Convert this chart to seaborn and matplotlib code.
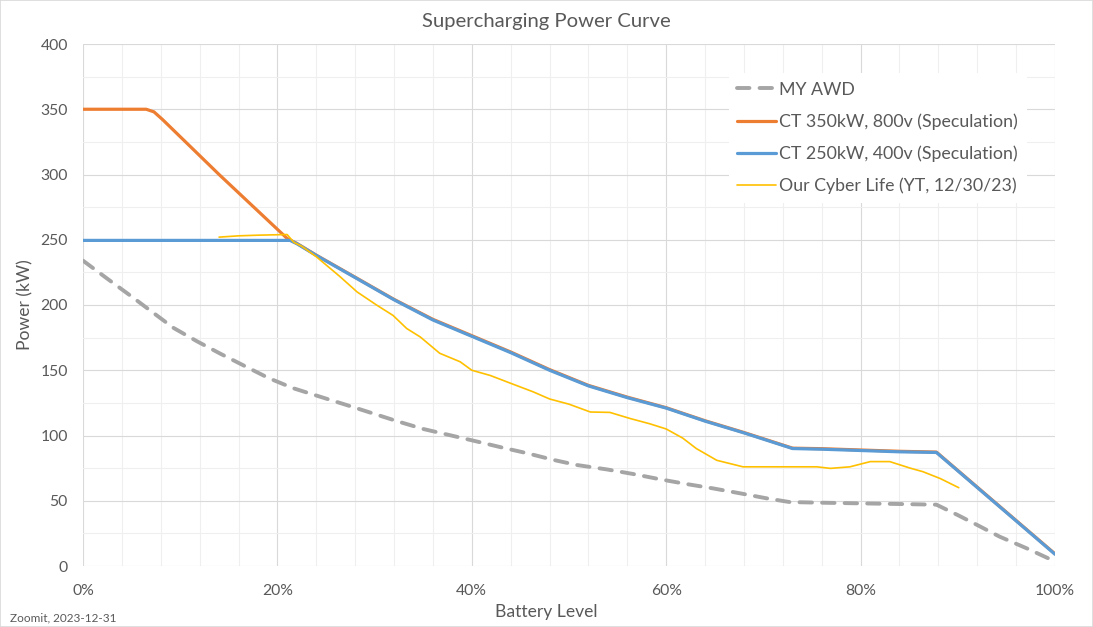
import numpy as np
import matplotlib
matplotlib.use("Agg")
import matplotlib.pyplot as plt
from matplotlib.ticker import PercentFormatter, MultipleLocator
from matplotlib.patches import Rectangle
import seaborn as sns

# battery level (%) / power (kW)
my_awd_x = [0, 2.6, 5, 7, 9.3, 11.7, 14.1, 16.7, 19.1, 21.6, 24.4, 27.1, 30, 32.3, 35,
            37.6, 40.3, 43.1, 45.7, 48.4, 50.8, 53.9, 56.6, 59.4, 62.1, 64.8, 67.6,
            70.3, 72.7, 76, 80, 84, 87.8, 90, 92, 94.3, 97.1, 100]
my_awd_y = [234, 219.6, 206.5, 195.3, 182.5, 172.3, 162.8, 153, 144, 136.3, 129.7, 123.4,
            116.5, 111, 105, 100.5, 95.8, 90.8, 86.4, 81.3, 77.4, 74, 70.5, 66.4, 62.8,
            59.5, 55.7, 51.9, 49, 48.5, 48, 47.5, 47, 39, 31.4, 22.5, 13.5, 3.5]

ct350_x = [0, 6.5, 7.3, 8.2, 14, 21, 22, 24, 28, 32, 36, 40, 44, 48, 52, 56, 60, 64, 68,
           73, 76, 80, 84, 87.8, 100]
ct350_y = [350, 350, 348, 342, 300, 251, 247.2, 238.2, 221.3, 204.3, 189, 176.5, 164,
           150.5, 138.4, 129.4, 121.3, 111.3, 102.3, 90.3, 89.9, 88.9, 87.9, 87.3, 9.3]

ct250_x = [0, 21.3, 22, 24, 28, 32, 36, 40, 44, 48, 52, 56, 60, 64, 68, 73, 76, 80, 84,
           87.8, 100]
ct250_y = [249.5, 249.5, 247, 238, 221, 204, 188.5, 176, 163.5, 150, 138, 129, 121, 111,
           102, 90, 89.5, 88.5, 87.5, 87, 9]

ocl_x = [14, 16, 18, 21, 21.7, 22.5, 24, 26.4, 28.2, 30.2, 31.9, 33.3, 34.7, 36.7, 38.8,
         40, 41.9, 44, 46.3, 48, 50, 52.2, 54.2, 56.3, 58.3, 60, 61.7, 63.1, 65.2, 67.9,
         70, 72, 75.5, 76.9, 78.9, 81, 83, 85.1, 86.4, 88.2, 90.1]
ocl_y = [252, 253, 253.5, 254, 248, 245, 237, 222, 210, 200, 192, 182, 175.5, 163, 156.5,
         150, 146, 140, 133.5, 128, 124, 118, 117.7, 113, 109, 105, 98, 90, 81, 76, 76, 76,
         76, 74.8, 76, 80, 80, 75, 72.3, 67, 60]

labels = ["MY AWD", "CT 350kW, 800v (Speculation)", "CT 250kW, 400v (Speculation)",
          "Our Cyber Life (YT, 12/30/23)"]

sns.set_style("white")
plt.rcParams['font.family'] = ['Lato', 'DejaVu Sans']
text_col = "#595959"

fig = plt.figure(figsize=(10.93, 6.27), dpi=100)
ax = fig.add_axes([83 / 1093, 61 / 627, 972 / 1093, 522 / 627])

sns.lineplot(x=my_awd_x, y=my_awd_y, ax=ax, color="#A5A5A5", lw=2.8,
             linestyle=(0, (3.2, 2.6)), dash_capstyle="round", label=labels[0])
sns.lineplot(x=ct350_x, y=ct350_y, ax=ax, color="#ED7D31", lw=2.3, label=labels[1])
sns.lineplot(x=ct250_x, y=ct250_y, ax=ax, color="#5B9BD5", lw=2.3, label=labels[2])
sns.lineplot(x=ocl_x, y=ocl_y, ax=ax, color="#FFC000", lw=1.2, label=labels[3])

ax.set_xlim(0, 100)
ax.set_ylim(0, 400)
ax.xaxis.set_major_locator(MultipleLocator(20))
ax.xaxis.set_minor_locator(MultipleLocator(4))
ax.yaxis.set_major_locator(MultipleLocator(50))
ax.yaxis.set_minor_locator(MultipleLocator(25))
ax.xaxis.set_major_formatter(PercentFormatter(xmax=100, decimals=0))
ax.grid(which="major", color="#D9D9D9", lw=0.8)
ax.grid(which="minor", color="#EFEFEF", lw=0.8)
ax.set_axisbelow(True)
for s in ax.spines.values():
    s.set_visible(False)
ax.tick_params(which="both", length=0)
ax.tick_params(axis="x", pad=13, labelsize=11.3, labelcolor=text_col)
ax.tick_params(axis="y", pad=11, labelsize=11.3, labelcolor=text_col)

ax.set_xlabel("")
ax.set_ylabel("")
fig.text(25 / 1093, 1 - 305 / 627, "Power (kW)", ha="center", va="center",
         rotation=90, fontsize=12.6, color=text_col)
fig.text(0.5, 1 - 612 / 627, "Battery Level", ha="center", va="center",
         fontsize=12.6, color=text_col)
fig.text(0.5, 1 - 22 / 627, "Supercharging Power Curve", ha="center", va="center",
         fontsize=14.6, color=text_col)
fig.text(10 / 1093, 4 / 627, "Zoomit, 2023-12-31", ha="left", va="bottom",
         fontsize=8.5, color=text_col)

leg = ax.legend(loc="upper left", bbox_to_anchor=(0.655, 0.962), fontsize=12.8,
                frameon=True, facecolor="white", edgecolor="none", framealpha=1,
                handlelength=2.15, handletextpad=0.2, labelspacing=0.88,
                borderpad=0.5)
for t in leg.get_texts():
    t.set_color(text_col)

fig.patches.append(Rectangle((0, 0), 1, 1, transform=fig.transFigure, fill=False,
                             edgecolor="#D9D9D9", lw=1.2))

fig.savefig("out.png", dpi=100)
